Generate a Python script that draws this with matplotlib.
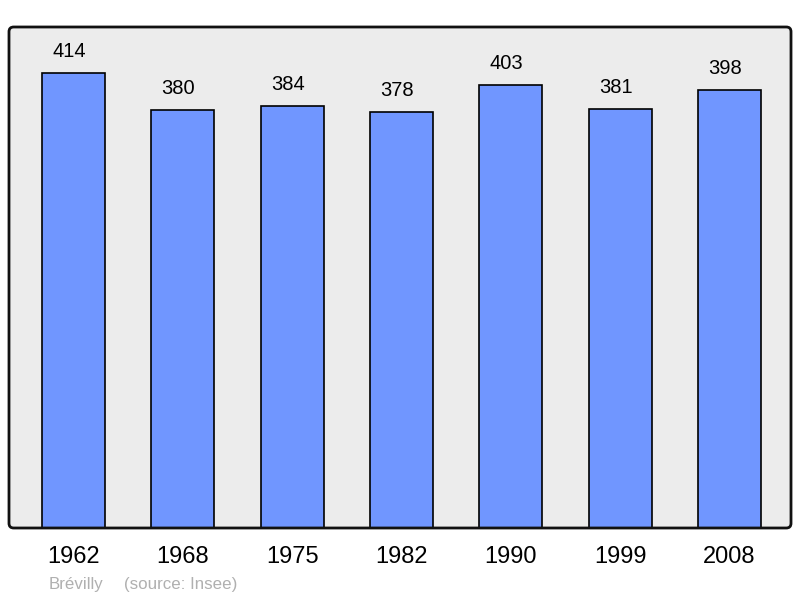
import matplotlib.pyplot as plt
from matplotlib.patches import FancyBboxPatch

plt.rcParams['font.family'] = ['Liberation Sans', 'DejaVu Sans']

years = ['1962', '1968', '1975', '1982', '1990', '1999', '2008']
population = [414, 380, 384, 378, 403, 381, 398]

fig = plt.figure(figsize=(8, 5.98), dpi=100)
ax = fig.add_axes([9 / 800, 70 / 598, 782 / 800, 501 / 598])
ax.set_facecolor('#ececec')

x = list(range(len(years)))
ax.bar(x, population, width=0.576, color='#7096ff', edgecolor='black', linewidth=1.2, zorder=2)

for xi, v in zip(x, population):
    ax.annotate(str(v), (xi, v), xytext=(-3.2, 15.5), textcoords='offset points',
                ha='center', va='center', fontsize=14.5)

ax.set_xlim(-0.590, 6.564)
ax.set_ylim(0, 455.4)
ax.set_xticks(x)
ax.set_xticklabels(years, fontsize=17)
ax.tick_params(axis='x', length=0, pad=13)
ax.set_yticks([])
for s in ax.spines.values():
    s.set_visible(False)

frame = FancyBboxPatch((0, 0), 1, 1, boxstyle='round,pad=0,rounding_size=0.006',
                       mutation_aspect=782 / 501, transform=ax.transAxes,
                       facecolor='none', edgecolor='#111111', linewidth=2,
                       clip_on=False, zorder=5)
ax.add_patch(frame)

fig.text(49 / 800, 1 - 584 / 598, 'Brévilly', color='#b0b0b0',
         fontsize=12.2, va='center', ha='left')
fig.text(124 / 800, 1 - 584 / 598, '(source: Insee)', color='#b0b0b0',
         fontsize=12.2, va='center', ha='left')

fig.savefig('out.png', dpi=100)
